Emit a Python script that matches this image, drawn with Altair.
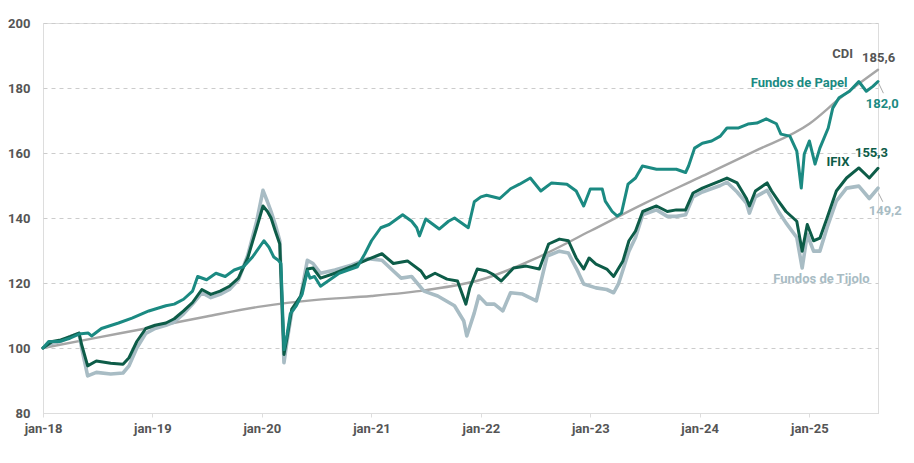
import altair as alt
import pandas as pd

# ---------------- data ----------------
cdi_dates = ["2018-01-01", "2018-07-01", "2019-01-01", "2019-07-01", "2020-01-01", "2020-07-01",
             "2021-01-01", "2021-07-01", "2022-01-01", "2022-07-01", "2023-01-01", "2023-07-01",
             "2024-01-01", "2024-07-01", "2025-01-01", "2025-04-15", "2025-08-18"]
cdi_vals = [100, 103.2, 106.4, 109.7, 112.8, 114.8, 116.0, 117.8, 121.0, 127.5, 136.0, 144.5,
            152.5, 160.5, 169.0, 177.0, 185.6]

papel_dates = ["2018-01-01", "2018-01-20", "2018-02-25", "2018-04-01", "2018-05-01", "2018-06-01",
               "2018-06-12", "2018-07-15", "2018-09-10", "2018-10-25", "2018-12-20",
               "2019-02-15", "2019-03-15", "2019-04-15", "2019-05-15", "2019-06-01",
               "2019-07-01", "2019-08-01", "2019-09-01", "2019-10-01", "2019-11-01", "2019-12-01",
               "2020-01-08", "2020-01-25", "2020-02-10", "2020-02-25", "2020-03-05", "2020-03-15",
               "2020-03-25", "2020-04-05", "2020-04-25", "2020-05-15", "2020-06-01", "2020-06-10",
               "2020-06-25", "2020-07-15", "2020-08-15", "2020-09-15", "2020-10-15", "2020-11-15",
               "2020-12-10", "2021-01-01", "2021-02-01", "2021-03-01", "2021-04-15", "2021-05-15",
               "2021-06-01", "2021-06-10", "2021-07-01", "2021-08-15", "2021-09-15", "2021-10-05",
               "2021-11-20", "2021-12-10", "2022-01-01", "2022-01-20", "2022-03-05", "2022-04-10",
               "2022-05-10", "2022-06-15", "2022-07-20", "2022-08-25", "2022-10-15", "2022-11-15",
               "2022-12-10", "2023-01-01", "2023-02-10", "2023-02-20", "2023-03-15", "2023-04-01",
               "2023-04-15", "2023-05-07", "2023-06-01", "2023-06-24", "2023-08-10", "2023-09-15",
               "2023-10-15", "2023-11-15", "2023-11-25", "2023-12-15", "2024-01-10", "2024-02-10",
               "2024-03-10", "2024-04-01", "2024-05-10", "2024-06-10", "2024-07-10", "2024-08-10",
               "2024-09-13", "2024-09-28", "2024-10-28", "2024-11-20", "2024-12-05", "2024-12-15",
               "2025-01-01", "2025-01-20", "2025-02-05", "2025-03-05", "2025-03-20", "2025-04-10",
               "2025-05-15", "2025-06-15", "2025-07-10", "2025-08-01", "2025-08-18"]
papel_vals = [100, 102, 102, 103, 104.3, 104.6,
              103.7, 106, 107.7, 109.2, 111.4,
              113, 113.5, 115, 117.5, 122,
              121, 123, 122, 124, 125, 128,
              133, 131, 128, 127, 126, 99.5,
              104, 110.5, 113, 116.6, 123.7, 121.5,
              122, 119, 121, 123, 124, 125,
              129, 133, 137, 138, 141, 139,
              137, 134.5, 139.7, 136.6, 139, 140,
              137, 145, 146.5, 147, 146, 149,
              150.4, 152.3, 148.3, 150.8, 150.4, 148.3,
              143.7, 148.9, 148.9, 145.2, 142, 140.6,
              141.5, 150.4, 152.3, 156, 155, 155,
              155, 154, 156, 161.5, 163, 163.7,
              165.2, 167.7, 167.7, 168.9, 169.2, 170.5,
              169, 165.8, 165.2, 160.6, 149.2, 159.7,
              163.7, 156.6, 161.5, 167.7, 173.8, 177,
              179, 182, 179, 180.5, 182.0]

ifix_dates = ["2018-01-01", "2018-02-01", "2018-03-01", "2018-04-01", "2018-05-01", "2018-05-10",
              "2018-05-30", "2018-06-28", "2018-08-15", "2018-09-25", "2018-10-15", "2018-11-10",
              "2018-12-10", "2019-01-10", "2019-02-15", "2019-03-15", "2019-04-15", "2019-05-15",
              "2019-06-15", "2019-07-15", "2019-08-15", "2019-09-15", "2019-10-15", "2019-11-15",
              "2019-12-15", "2020-01-05", "2020-01-20", "2020-02-01", "2020-02-15", "2020-03-01",
              "2020-03-15", "2020-03-25", "2020-04-10", "2020-05-10", "2020-06-01", "2020-06-20",
              "2020-07-15", "2020-09-01", "2020-10-25", "2020-12-20", "2021-02-05", "2021-03-15",
              "2021-05-01", "2021-06-15", "2021-07-01", "2021-08-01", "2021-09-10", "2021-10-15",
              "2021-11-12", "2021-11-25", "2021-12-20", "2022-01-20", "2022-02-10", "2022-03-10",
              "2022-04-20", "2022-06-01", "2022-07-15", "2022-08-15", "2022-09-20", "2022-10-20",
              "2022-11-15", "2022-12-10", "2022-12-28", "2023-01-20", "2023-02-25", "2023-03-20",
              "2023-04-20", "2023-05-10", "2023-06-01", "2023-06-25", "2023-08-10", "2023-09-15",
              "2023-10-15", "2023-11-15", "2023-12-10", "2024-01-10", "2024-03-10", "2024-04-01",
              "2024-05-05", "2024-06-05", "2024-06-15", "2024-07-05", "2024-08-13", "2024-08-28",
              "2024-09-20", "2024-10-15", "2024-11-20", "2024-12-08", "2024-12-25", "2025-01-15",
              "2025-02-05", "2025-03-01", "2025-04-01", "2025-05-05", "2025-06-15", "2025-07-20",
              "2025-08-18"]
ifix_vals = [100, 102, 102.5, 103.5, 104.6, 101,
             94.5, 96, 95.3, 95, 97, 102,
             106, 107, 107.7, 109, 111.4, 114,
             118, 116.5, 117.5, 119, 121.5, 127.7,
             137, 143.7, 142, 140, 136, 132,
             98, 103, 112, 116, 124.3, 124.6,
             121.5, 123, 125, 127.3, 129, 126,
             126.8, 123.7, 121.5, 123, 121.2, 120.6,
             113.5, 118.5, 124.3, 123.7, 122.7, 120.6,
             124.6, 125.2, 124.3, 132, 133.5, 133,
             127.7, 124.3, 127.7, 125.8, 124.3, 122,
             126.8, 133, 136, 142, 143.7, 142,
             142.5, 142.5, 147.7, 149.2, 151.4, 152.3,
             150.8, 146, 143.7, 148.3, 150.8, 148.3,
             145.2, 142, 139, 129.8, 138, 133,
             133.8, 140, 148.3, 152.3, 155.4, 152.3,
             155.3]

tijolo_dates = ["2018-01-01", "2018-02-01", "2018-03-01", "2018-04-01", "2018-05-01", "2018-05-10",
                "2018-05-30", "2018-06-28", "2018-08-15", "2018-09-25", "2018-10-15", "2018-11-10",
                "2018-12-10", "2019-01-10", "2019-02-15", "2019-03-15", "2019-04-15", "2019-05-15",
                "2019-06-15", "2019-07-15", "2019-08-15", "2019-09-15", "2019-10-15", "2019-11-15",
                "2019-12-15", "2020-01-05", "2020-01-20", "2020-02-01", "2020-02-15", "2020-03-01",
                "2020-03-15", "2020-03-25", "2020-04-10", "2020-05-10", "2020-06-01", "2020-06-20",
                "2020-07-15", "2020-09-01", "2020-10-25", "2020-12-20", "2021-02-05", "2021-03-15",
                "2021-04-10", "2021-05-15", "2021-06-25", "2021-08-10", "2021-10-05", "2021-11-05",
                "2021-11-15", "2021-12-10", "2021-12-25", "2022-01-20", "2022-02-15", "2022-03-15",
                "2022-04-10", "2022-05-20", "2022-07-05", "2022-08-10", "2022-09-20", "2022-10-20",
                "2022-11-15", "2022-12-10", "2023-01-20", "2023-02-25", "2023-03-20", "2023-04-05",
                "2023-05-10", "2023-06-01", "2023-06-25", "2023-08-10", "2023-09-15", "2023-10-15",
                "2023-11-15", "2023-12-10", "2024-01-10", "2024-03-10", "2024-04-01", "2024-05-05",
                "2024-06-05", "2024-06-15", "2024-07-05", "2024-08-13", "2024-08-28", "2024-09-20",
                "2024-10-15", "2024-11-20", "2024-12-08", "2024-12-25", "2025-01-15", "2025-02-05",
                "2025-03-01", "2025-04-01", "2025-05-05", "2025-06-15", "2025-07-20", "2025-08-18"]
tijolo_vals = [100, 101.5, 102, 103.5, 104.5, 100,
               91.4, 92.5, 92, 92.3, 94.5, 100,
               104.5, 106, 107, 108, 110.5, 113.5,
               117, 115.5, 116.5, 118, 121, 128.5,
               139, 148.5, 145, 142, 138, 133,
               95.5, 102, 111, 116, 127, 126,
               123, 124, 125.5, 127.5, 127, 123.7,
               121.5, 122, 117.5, 116, 113, 108.3,
               103.7, 110.8, 116, 113.5, 113.5, 111.4,
               117, 116.6, 114.5, 128.3, 129.8, 129.2,
               124.6, 119.7, 118.5, 118, 117, 119.7,
               129.8, 134, 141, 142.5, 140.5, 140.5,
               141, 146.5, 148, 150, 151, 148,
               144.6, 141.5, 146.5, 148.5, 146, 142,
               138.5, 134, 124.6, 135, 129.8, 129.8,
               137, 145.2, 149.2, 149.8, 146, 149.2]

# end-of-line labels
lab_text = ["CDI", "185,6", "Fundos de Papel", "182,0", "IFIX", "155,3", "149,2", "Fundos de Tijolo"]
lab_date = ["2025-05-27", "2025-06-26", "2025-05-08", "2025-07-08", "2025-05-15", "2025-06-02",
            "2025-07-18", "2025-07-21"]
lab_val = [190.5, 189.2, 181.5, 175.1, 157.2, 160.0, 142.2, 121.2]
lab_align = ["right", "left", "right", "left", "right", "left", "left", "right"]
lab_color = ["#555555", "#555555", "#1b8a82", "#1b8a82", "#0d5c48", "#0d5c48", "#a8bcc4", "#a8bcc4"]

# short leader lines
lead_d1 = ["2025-08-20", "2025-08-08", "2025-08-20"]
lead_d2 = ["2025-09-05", "2025-08-23", "2025-09-03"]
lead_v1 = [181.5, 160.0, 147.6]
lead_v2 = [178.4, 158.6, 145.0]

C_PAPEL = "#1b8a82"
C_IFIX = "#0d5c48"
C_TIJOLO = "#a8bcc4"
C_CDI = "#a6a6a6"

FONT = "Roboto"

def frame(dates, vals):
    return pd.DataFrame({"date": pd.to_datetime(dates), "value": vals})

x_scale = alt.Scale(domain=[pd.Timestamp("2018-01-01").isoformat(), pd.Timestamp("2025-08-18").isoformat()])
y_scale = alt.Scale(domain=[80, 200], nice=False, zero=False)

year_ticks = [pd.Timestamp(f"{y}-01-01").isoformat() for y in range(2018, 2026)]

x_enc = alt.X("date:T", scale=x_scale, title=None,
              axis=alt.Axis(values=year_ticks, labelExpr="'jan-' + timeFormat(datum.value, '%y')",
                            grid=False, domainColor="#dddddd", tickColor="#dddddd", tickSize=4,
                            labelFlush=False, labelOverlap=False,
                            labelPadding=5, labelFont=FONT, labelFontSize=13,
                            labelFontWeight="bold", labelColor="#555555"))
y_enc = alt.Y("value:Q", scale=y_scale, title=None,
              axis=alt.Axis(values=[80, 100, 120, 140, 160, 180, 200], domain=False, ticks=False,
                            grid=True, gridDash=[4, 4], gridColor="#cccccc", labelPadding=13,
                            labelFont=FONT, labelFontSize=13, labelFontWeight="bold",
                            labelColor="#555555"))

def line(df, color, width, interp="linear"):
    return alt.Chart(df).mark_line(color=color, strokeWidth=width, interpolate=interp,
                                   strokeJoin="round", strokeCap="round").encode(x=x_enc, y=y_enc)

cdi = line(frame(cdi_dates, cdi_vals), C_CDI, 2.4, "monotone")
tij = line(frame(tijolo_dates, tijolo_vals), C_TIJOLO, 3.6)
ifx = line(frame(ifix_dates, ifix_vals), C_IFIX, 3.0)
pap = line(frame(papel_dates, papel_vals), C_PAPEL, 3.0)

labels_df = pd.DataFrame({"text": lab_text, "date": pd.to_datetime(lab_date), "value": lab_val,
                          "align": lab_align, "color": lab_color})
labels = []
for al in ["left", "right"]:
    labels.append(
        alt.Chart(labels_df[labels_df["align"] == al]).mark_text(
            align=al, baseline="middle", font=FONT, fontSize=13, fontWeight="bold"
        ).encode(x=alt.X("date:T", scale=x_scale), y=alt.Y("value:Q", scale=y_scale),
                 text="text:N", color=alt.Color("color:N", scale=None))
    )

lead_df = pd.DataFrame({"d1": pd.to_datetime(lead_d1), "d2": pd.to_datetime(lead_d2),
                        "v1": lead_v1, "v2": lead_v2})
leads = alt.Chart(lead_df).mark_rule(color="#aaaaaa", strokeWidth=1).encode(
    x=alt.X("d1:T", scale=x_scale), x2="d2:T",
    y=alt.Y("v1:Q", scale=y_scale), y2="v2:Q")

chart = alt.layer(cdi, tij, ifx, pap, leads, *labels).properties(
    width=835, height=390,
    autosize=alt.AutoSizeParams(type="none"),
    padding={"left": 35, "top": 15, "right": 26, "bottom": 36},
).configure_view(stroke=None).configure(background="white")

chart.save("out.html", embed_options={"renderer": "svg", "actions": False})
